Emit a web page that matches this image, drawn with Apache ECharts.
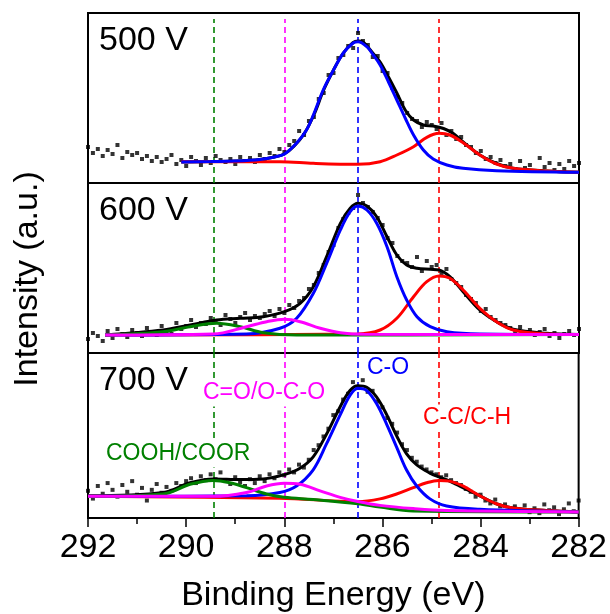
<!DOCTYPE html>
<html><head><meta charset="utf-8">
<script src="https://cdn.jsdelivr.net/npm/echarts@6/dist/echarts.min.js"></script>
<style>html,body{margin:0;padding:0;background:#fff}#c{width:610px;height:614px}</style>
</head><body><div id="c"></div>
<script>
// Energy grid of the measured points (eV), 292 -> 282, step 0.1
const energyStart = 292, energyStep = 0.1, energyCount = 101;
const xTicks = [292, 290, 288, 286, 284, 282];
const panelLabels = ['500 V', '600 V', '700 V'];
const peakNames = ['COOH/COOR', 'C=O/O-C-O', 'C-O', 'C-C/C-H'];
const peakPositions = [289.43, 288.0, 286.5, 284.85];

// measured points (arbitrary intensity units)
const data500 = [36,30,34,27,33,29,38,25,31,28,30,24,27,22,26,21,24,28,19,23,17,26,22,18,25,20,27,23,21,24,19,26,22,25,21,28,24,30,27,34,31,38,42,52,48,62,66,84,90,108,110,125,128,137,135,150,142,138,126,127,112,110,95,86,80,70,64,62,56,61,58,54,60,48,52,44,46,38,36,30,32,24,26,20,23,17,19,14,22,15,18,12,25,16,20,13,19,14,22,17,20];
const data600 = [14,20,17,12,22,15,24,19,16,23,20,17,25,21,18,27,22,19,30,24,27,33,26,30,29,35,31,28,38,34,30,36,40,33,37,35,39,42,37,44,40,48,45,52,55,64,68,80,88,101,108,125,134,140,145,158,150,146,141,135,128,115,110,97,92,90,86,96,82,92,86,88,79,84,74,70,66,58,54,50,42,44,36,33,30,28,25,22,26,20,23,18,21,24,17,20,15,19,22,18,24];
const data700 = [28,20,33,25,36,29,22,34,27,38,24,31,18,29,35,26,32,28,36,33,38,41,36,43,39,45,40,47,38,35,42,37,33,40,36,43,38,45,41,47,44,50,47,55,52,60,70,75,84,92,106,110,122,128,140,134,142,130,131,120,114,103,97,88,76,70,62,58,53,50,47,45,42,44,39,36,34,30,27,22,24,18,15,19,12,14,9,12,8,13,6,10,5,14,8,11,4,9,15,7,18];

// fitted curves [eV, intensity]
const envelope500 = [[290.1,21],[289.5,21.5],[289,22],[288.5,23.5],[288.2,26],[288,29],[287.8,37],[287.6,49],[287.4,68],[287.2,93],[287,113],[286.8,130],[286.6,140.5],[286.5,142],[286.4,141],[286.2,130],[286.05,121],[285.88,106],[285.71,90],[285.54,73],[285.37,63],[285.17,58],[284.97,57],[284.76,54.5],[284.56,49.5],[284.36,41],[284.02,28],[283.68,19.5],[283.34,14.7],[282.66,12],[282,10.7]];
const co500 = [[290.1,21],[289.5,21.5],[289,22],[288.5,23.5],[288.2,26],[288,29],[287.75,40],[287.55,53],[287.41,68],[287.21,93],[287,113],[286.8,130],[286.6,140],[286.5,141.3],[286.32,136.3],[286.19,128],[286.05,118],[285.88,101],[285.71,83],[285.54,65],[285.37,48],[285.17,33],[284.97,24],[284.69,18],[284.36,14.7],[283.68,12.3],[282,10.7]];
const cc500 = [[290.1,21.3],[288.09,21.3],[287.41,19.7],[286.5,18.7],[286.05,21.3],[285.71,28],[285.37,36.3],[285.1,45.7],[284.85,49.7],[284.63,48],[284.36,40.3],[284.02,28],[283.68,19],[283.34,14.7],[282.66,12],[282,10.7]];

const envelope600 = [[291.65,18],[290.47,23],[289.92,28],[289.38,33],[288.9,34.7],[288.43,36.3],[288,41.3],[287.68,49.7],[287.41,66.3],[287.14,96.3],[286.86,129.7],[286.66,144.7],[286.5,149.7],[286.32,147],[286.12,136.3],[285.91,116.3],[285.71,98],[285.51,88],[285.3,84.7],[285.03,83.7],[284.85,83],[284.63,76.3],[284.36,61.3],[284.02,43],[283.68,31.3],[283.34,23.7],[282.66,19.7],[282,18.5]];
const co600 = [[291.65,18],[288.77,19],[288.09,24.7],[287.75,34.7],[287.41,59.7],[287.14,89.7],[286.86,123],[286.66,141.3],[286.5,147],[286.32,143],[286.12,129.7],[285.91,106.3],[285.71,76.3],[285.51,53],[285.3,36.3],[285.03,26.3],[284.69,21.3],[284.02,19],[282,18.5]];
const cc600 = [[291.65,18],[286.5,19],[286.05,23],[285.71,34.7],[285.37,56.3],[285.1,71.3],[284.85,77],[284.63,74.7],[284.36,63],[284.02,44.7],[283.68,31.3],[283.34,23],[282.66,19],[282,18.5]];
const cooh600 = [[291.65,18],[290.47,21.3],[289.92,26.3],[289.38,29.7],[288.9,26.3],[288.43,20.3],[287.75,18],[282,18.5]];
const cdo600 = [[291.65,18],[289.45,19],[288.77,26.3],[288.36,31.3],[288,33.7],[287.68,31.3],[287.27,24.7],[286.86,20.3],[286.38,18.7],[282,18.5]];

const envelope700 = [[292,23],[290.47,26.3],[289.92,36.3],[289.45,40.3],[288.9,39.7],[288.43,40.3],[288,44.7],[287.68,51.3],[287.41,63],[287.14,86.3],[286.86,114.7],[286.66,131.3],[286.5,136.3],[286.32,134.7],[286.12,124.7],[285.91,106.3],[285.71,84.7],[285.51,66.3],[285.3,54.7],[285.03,46.3],[284.85,42.3],[284.63,38],[284.36,31.3],[284.02,23],[283.68,14.7],[283.34,10.3],[282.66,7.7],[282,6.3]];
const co700 = [[292,22.3],[288.77,23],[288.09,26.3],[287.75,33],[287.41,49.7],[287.14,76.3],[286.86,106.3],[286.66,126.3],[286.5,133.7],[286.32,131.3],[286.12,118],[285.91,96.3],[285.71,73],[285.51,49.7],[285.3,33],[285.03,19.7],[284.69,12.3],[284.02,9],[282,6.3]];
const cc700 = [[292,22.3],[288.1,20.3],[286.5,17],[286.05,19.7],[285.71,24.7],[285.37,31.3],[285.1,36.3],[284.85,38.7],[284.63,38],[284.36,33],[284.02,23],[283.68,14.7],[283.34,10.3],[282.66,7.7],[282,6.3]];
const cooh700 = [[292,22.3],[290.47,24.7],[289.92,34.7],[289.45,38.7],[289.11,36.3],[288.77,31.3],[288.36,24.7],[288,21.3],[287.41,19],[286.5,14.7],[286.05,11.3],[285.37,7.3],[282,6.3]];
const cdo700 = [[292,22.3],[289.45,22.3],[288.77,26.3],[288.36,33],[288,35.7],[287.68,34.7],[287.27,28],[286.86,21.3],[286.5,17],[286.05,13],[285.37,9.7],[284.69,7.7],[282,6.3]];

// ---------------------------------------------------------------
const FONT = 'Liberation Sans, Arial, sans-serif';
const C_GREEN = '#008000', C_MAG = '#ff00ff', C_BLUE = '#0000ff', C_RED = '#ff0000';
const peakColors = [C_GREEN, C_MAG, C_BLUE, C_RED];

const energies = [];
for (let i = 0; i < energyCount; i++) energies.push(Math.round((energyStart - i * energyStep) * 100) / 100);
const pts = arr => arr.map((v, i) => [energies[i], v]);

const panels = [
  {data: data500, curves: [[envelope500,'#000'],[cc500,C_RED],[co500,C_BLUE]]},
  {data: data600, curves: [[envelope600,'#000'],[cc600,C_RED],[co600,C_BLUE],[cooh600,C_GREEN],[cdo600,C_MAG]]},
  {data: data700, curves: [[envelope700,'#000'],[cc700,C_RED],[co700,C_BLUE],[cooh700,C_GREEN],[cdo700,C_MAG]]}
];
const tops = [13, 183, 353];
const grids = [], xAxes = [], yAxes = [], series = [];
panels.forEach((p, k) => {
  grids.push({left: 88, right: 31, top: tops[k], height: 170, show: true, borderColor: '#000', borderWidth: 2, backgroundColor: 'transparent'});
  const bottom = k === 2;
  xAxes.push({
    gridIndex: k, type: 'value', inverse: true, min: 282, max: 292, interval: 2,
    axisLine: {show: bottom, lineStyle: {color: '#000', width: 2}},
    axisTick: {show: bottom, length: 9, lineStyle: {color: '#000', width: 1.5}},
    minorTick: {show: bottom, splitNumber: 2, length: 6, lineStyle: {color: '#000', width: 1.5}},
    axisLabel: {show: bottom, fontSize: 34, color: '#000', fontFamily: FONT, margin: 13,
      formatter: v => xTicks.includes(v) ? String(v) : ''},
    splitLine: {show: false},
    name: bottom ? 'Binding Energy (eV)' : '', nameLocation: 'middle', nameGap: 61,
    nameTextStyle: {fontSize: 34, color: '#000', fontFamily: FONT}
  });
  yAxes.push({gridIndex: k, type: 'value', min: 0, max: 170, show: false});
  series.push({type: 'scatter', xAxisIndex: k, yAxisIndex: k, data: pts(p.data), symbol: 'rect', symbolSize: 4,
    itemStyle: {color: '#000'}, silent: true, z: 2,
    markLine: {silent: true, symbol: 'none', label: {show: false},
      data: peakPositions.map((x, j) => k === 0
        ? [{coord: [x, 0], lineStyle: {color: peakColors[j]}}, {coord: [x, 164]}]
        : [{coord: [x, 0], lineStyle: {color: peakColors[j]}}, {coord: [x, 170]}]),
      lineStyle: {type: [6, 4], width: 1.6}, z: 1}
  });
  p.curves.forEach(([arr, col]) => {
    series.push({type: 'line', xAxisIndex: k, yAxisIndex: k, data: arr, smooth: 0.35, showSymbol: false,
      lineStyle: {color: col, width: 3}, itemStyle: {color: col}, silent: true, z: 3});
  });
});

const graphic = [
  {type: 'text', x: 45, y: 279, rotation: Math.PI / 2, style: {text: 'Intensity (a.u.)', fontSize: 34, fontFamily: FONT, fill: '#000', textAlign: 'center', textVerticalAlign: 'bottom'}}
];
panelLabels.forEach((t, k) => graphic.push({type: 'text', x: 99, y: tops[k] + 28, style: {text: t, fontSize: 34, fontFamily: FONT, fill: '#000', textVerticalAlign: 'middle'}}));
const annPos = [[105, 454], [202, 393], [366, 368], [422, 418]];
peakNames.forEach((t, j) => graphic.push({type: 'text', x: annPos[j][0], y: annPos[j][1], z: 50,
  style: {text: t, fontSize: 23, fontFamily: FONT, fill: peakColors[j], textVerticalAlign: 'middle', backgroundColor: '#fff', padding: [2, 1]}}));

const chart = echarts.init(document.getElementById('c'), null, {renderer: 'canvas'});
chart.setOption({animation: false, backgroundColor: '#fff', grid: grids, xAxis: xAxes, yAxis: yAxes, series, graphic});
</script></body></html>
